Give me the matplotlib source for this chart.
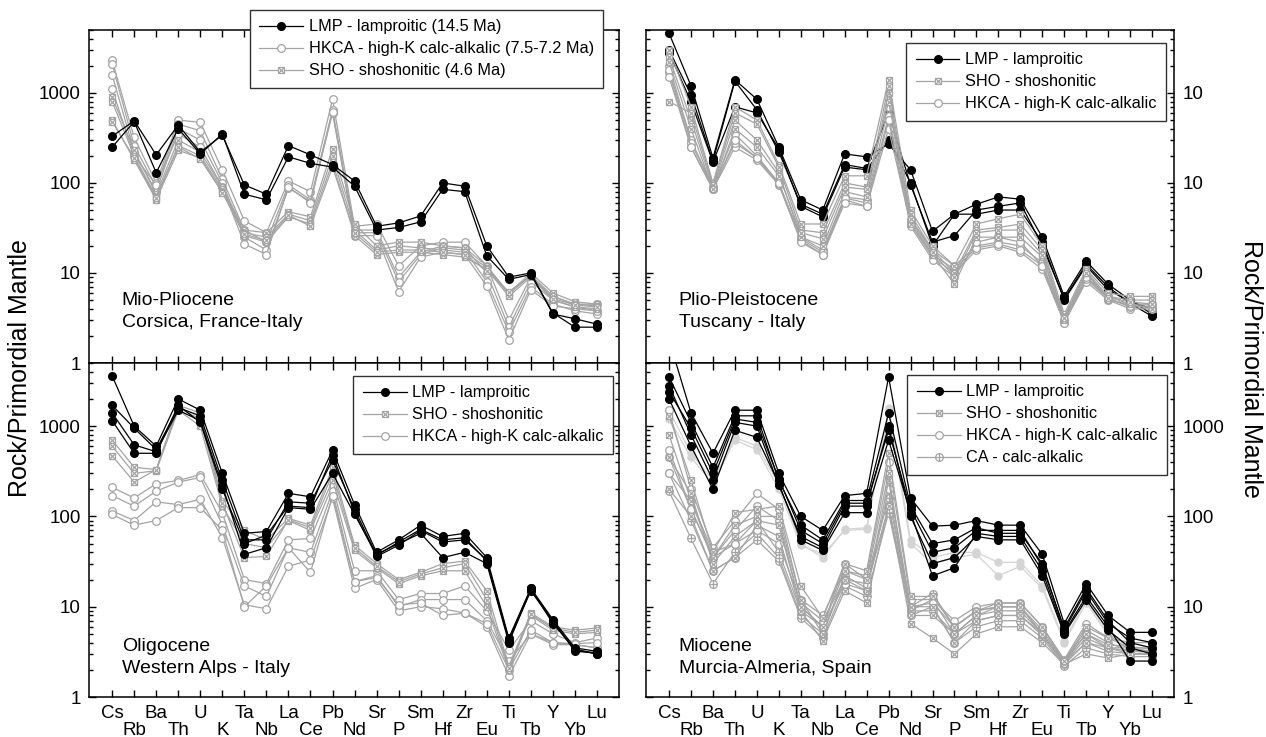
import matplotlib
matplotlib.use('Agg')
import matplotlib.pyplot as plt
from matplotlib.lines import Line2D
from matplotlib.legend_handler import HandlerTuple
import numpy as np

plt.rcParams['font.family'] = ['Liberation Sans', 'DejaVu Sans']

elements = ['Cs', 'Rb', 'Ba', 'Th', 'U', 'K', 'Ta', 'Nb', 'La', 'Ce', 'Pb', 'Nd',
            'Sr', 'P', 'Sm', 'Hf', 'Zr', 'Eu', 'Ti', 'Tb', 'Y', 'Yb', 'Lu']

# Mio-Pliocene, Corsica
corsica_lmp = [
    [330, 490, 205, 440, 220, 340, 95, 75, 260, 205, 160, 105, 33, 36, 43, 100, 92, 20, 9.0, 10.0, 3.5, 3.1, 2.7],
    [250, 480, 130, 400, 210, 350, 75, 65, 195, 165, 150, 92, 30, 32, 37, 85, 80, 15.5, 8.5, 9.6, 3.6, 2.5, 2.5],
]
corsica_hkca = [
    [2300, 320, 100, 500, 470, 140, 38, 28, 105, 80, 850, 33, 35, 12, 20, 22, 22, 12, 3.0, 9, 5.5, 4.5, 4.5],
    [2100, 260, 90, 450, 380, 110, 30, 22, 95, 65, 650, 30, 30, 9, 17, 20, 19, 10, 2.5, 8, 5, 4.2, 3.8],
    [1600, 220, 80, 400, 300, 100, 25, 18, 88, 62, 600, 28, 28, 8, 16, 19, 18, 8, 2.2, 7, 4.5, 3.8, 3.5],
    [1100, 200, 95, 350, 250, 90, 21, 16, 90, 60, 620, 26, 26, 6.2, 15, 17, 16, 7.2, 1.8, 6.5, 4.3, 4.0, 3.8],
]
corsica_sho = [
    [900, 230, 75, 300, 220, 90, 30, 28, 48, 42, 240, 35, 20, 22, 22, 20, 19, 12, 6, 10, 6, 4.8, 4.5],
    [800, 200, 70, 260, 200, 85, 28, 25, 45, 38, 200, 30, 18, 20, 19, 18, 17, 11.5, 5.8, 9.5, 5.5, 4.5, 4.3],
    [500, 180, 65, 230, 190, 80, 26, 22, 42, 35, 170, 26, 16, 17, 17, 16, 15, 11, 5.5, 9, 5, 4.2, 4.0],
    [480, 190, 68, 250, 185, 78, 27, 23, 44, 33, 150, 28, 17, 18, 18, 17, 16, 10.5, 6.2, 9.2, 5.2, 4.4, 4.2],
]

# Plio-Pleistocene, Tuscany
tuscany_lmp = [
    [4600, 1200, 190, 1400, 850, 250, 65, 50, 210, 195, 270, 140, 29, 45, 58, 70, 66, 25, 5.5, 13.5, 7.5, 5.0, 3.5],
    [3000, 950, 175, 1350, 650, 220, 58, 45, 160, 145, 600, 95, 22, 26, 50, 55, 60, 20, 5.2, 12.5, 7.0, 4.6, 3.3],
    [2800, 800, 170, 700, 600, 240, 55, 42, 150, 140, 300, 100, 20, 45, 45, 50, 50, 22, 5.0, 12, 6.5, 4.8, 4.0],
]
tuscany_sho = [
    [3000, 700, 100, 700, 500, 160, 35, 35, 120, 120, 1400, 50, 20, 12, 35, 40, 45, 20, 3.5, 11, 6, 5.5, 5.5],
    [2500, 500, 90, 500, 300, 130, 25, 20, 80, 70, 1000, 35, 16, 7.5, 25, 25, 25, 15, 3.0, 10, 5, 4.5, 4.0],
    [800, 600, 95, 600, 450, 150, 30, 28, 100, 90, 800, 45, 18, 10, 30, 32, 35, 18, 3.2, 10.5, 5.5, 5.0, 5.0],
    [2200, 400, 85, 400, 250, 120, 28, 24, 90, 85, 1200, 40, 17, 9, 28, 30, 30, 16, 3.2, 10, 5.3, 4.8, 4.5],
]
tuscany_hkca = [
    [2000, 300, 90, 350, 200, 100, 25, 18, 70, 65, 700, 40, 18, 12, 20, 22, 20, 13, 3.0, 9, 5.5, 4.5, 4.5],
    [1700, 250, 85, 250, 180, 95, 23, 16, 65, 55, 400, 35, 15, 10, 18, 20, 17, 11, 2.8, 8, 5, 4.0, 4.0],
    [1800, 280, 88, 280, 190, 98, 24, 17, 68, 60, 550, 38, 16, 11, 19, 21, 18, 12, 2.9, 8.5, 5.2, 4.2, 4.2],
    [1500, 250, 85, 300, 190, 100, 22, 16, 60, 55, 500, 33, 14, 9, 22, 25, 22, 12, 2.8, 9, 5.2, 4.3, 4.3],
]

# Oligocene, Western Alps
alps_lmp = [
    [3600, 1000, 600, 2000, 1500, 300, 65, 68, 180, 165, 540, 135, 40, 55, 80, 60, 65, 35, 4.5, 16, 7.2, 3.5, 3.2],
    [1700, 950, 550, 1600, 1300, 250, 55, 55, 145, 140, 420, 120, 37, 52, 72, 55, 58, 32, 4.2, 15, 6.8, 3.3, 3.0],
    [1400, 620, 520, 1500, 1150, 220, 38, 45, 125, 120, 300, 105, 38, 50, 65, 35, 40, 30, 4.0, 15.5, 7.0, 3.2, 3.1],
    [1150, 500, 500, 1700, 1100, 200, 50, 62, 130, 125, 480, 110, 36, 48, 70, 52, 55, 33, 4.3, 16, 6.5, 3.4, 3.0],
]
alps_sho = [
    [700, 350, 330, 1700, 1400, 150, 70, 55, 95, 80, 350, 48, 30, 20, 24, 30, 32, 15, 2.2, 8.5, 6, 5.5, 5.8],
    [600, 300, 320, 1500, 1000, 130, 50, 45, 90, 70, 250, 42, 27, 18, 22, 25, 25, 10, 2.0, 8, 5.5, 5.0, 5.2],
    [470, 240, 330, 1600, 1200, 140, 35, 36, 92, 75, 300, 45, 28, 19, 23, 27, 30, 12, 2.1, 8.2, 5.8, 5.2, 5.5],
]
alps_hkca = [
    [210, 160, 230, 250, 290, 110, 20, 18, 55, 57, 220, 25, 25, 12, 14, 14, 17, 9, 3.3, 7, 5, 4, 4.5],
    [170, 130, 190, 240, 270, 80, 17, 13, 45, 40, 190, 19, 22, 10, 12, 12, 12, 7, 2.5, 5, 4, 3.8, 3.5],
    [115, 90, 145, 135, 155, 58, 10.5, 9.5, 28, 33, 160, 16, 20, 9, 10, 9.5, 8.5, 6, 1.7, 5, 3.8, 3.8, 3.5],
    [105, 80, 90, 125, 125, 70, 10, 17, 45, 24, 170, 19, 21, 10.5, 11, 8, 8.5, 6.5, 2.0, 5.5, 4, 3.9, 4.0],
]

# Miocene, Murcia-Almeria
murcia_lmp = [
    [9000, 1400, 500, 1500, 1500, 300, 100, 70, 170, 180, 3500, 160, 78, 80, 90, 80, 80, 38, 6.5, 18, 8, 5.2, 5.2],
    [3500, 1100, 350, 1300, 1300, 250, 80, 55, 150, 150, 1400, 130, 50, 55, 75, 65, 65, 30, 5.5, 15, 6.5, 4.5, 4.0],
    [2800, 800, 250, 1100, 1000, 220, 60, 45, 130, 130, 1000, 100, 30, 35, 60, 55, 55, 22, 5.0, 12, 5.5, 3.5, 3.0],
    [2000, 600, 200, 900, 750, 230, 55, 42, 110, 110, 700, 110, 22, 27, 65, 60, 60, 25, 5.2, 13, 6, 2.5, 2.5],
    [2400, 950, 300, 1200, 1100, 260, 70, 50, 140, 140, 900, 120, 40, 45, 70, 70, 70, 28, 5.8, 16, 7, 4.0, 3.5],
]
murcia_other = [
    [1500, 500, 250, 750, 600, 230, 50, 35, 72, 75, 1600, 55, 35, 40, 40, 31, 31, 17, 4.2, 12, 5, 3.5, 3.0],
    [1200, 450, 230, 700, 550, 200, 48, 38, 70, 72, 1400, 50, 30, 35, 38, 22, 28, 16, 4.0, 11, 4.8, 3.3, 2.9],
]
murcia_sho = [
    [1300, 250, 40, 110, 120, 130, 17, 7.5, 30, 25, 500, 13, 13, 6, 9, 11, 11, 6, 2.5, 6, 4.5, 4, 4],
    [800, 150, 35, 80, 100, 100, 12, 5, 20, 15, 250, 10, 10, 4, 7, 8, 8, 5, 2.4, 4, 3.5, 3.5, 3.2],
    [200, 100, 25, 35, 80, 60, 9, 4.2, 15, 11, 130, 6.5, 4.5, 3, 5, 6, 6, 4, 2.3, 3, 2.7, 3, 3],
    [450, 180, 30, 60, 90, 80, 10, 6, 25, 20, 300, 8, 8, 5, 8, 10, 10, 5, 2.5, 5, 3.8, 3.6, 3.4],
]
murcia_hkca = [
    [1500, 200, 45, 90, 180, 120, 12, 8, 25, 22, 400, 12, 12, 7, 10, 11, 11, 6, 2.6, 6.5, 4.5, 3.5, 3.5],
    [550, 120, 35, 70, 130, 90, 10, 6, 18, 15, 200, 9, 9, 5, 8, 9, 9, 5, 2.4, 5, 3.5, 3, 3],
    [300, 150, 40, 50, 70, 50, 11, 7, 20, 18, 120, 10, 11, 6, 9, 10, 10, 5.5, 2.5, 5.5, 4, 3.2, 3.2],
]
murcia_ca = [
    [450, 120, 35, 50, 90, 40, 9, 6, 30, 20, 160, 10, 14, 6, 9, 10, 10, 5, 2.4, 4.5, 3.5, 3.2, 3.3],
    [300, 90, 25, 35, 55, 32, 7.5, 4.5, 17, 13, 110, 8, 10, 4, 6, 7, 7, 4.5, 2.2, 3.5, 3, 2.8, 2.8],
    [190, 57, 18, 40, 65, 35, 8, 5, 22, 16, 130, 9, 12, 5, 7, 8, 8, 4.8, 2.3, 4, 3.2, 3, 3],
]

GRAY = '#a4a4a4'
LIGHT = '#d4d4d4'
x = np.arange(len(elements))

lmp_style = dict(color='black', lw=0.9, marker='o', ms=5.5, mfc='black', mec='black')
hkca_style = dict(color=GRAY, lw=0.9, marker='o', ms=5.5, mfc='white', mec=GRAY, mew=0.9)
sho_style = dict(color=GRAY, lw=0.9, marker='s', ms=5, mfc='white', mec=GRAY, mew=0.9)
sho_cross = dict(ls='none', marker='x', ms=5, mec=GRAY, mew=0.9)
ca_cross = dict(ls='none', marker='+', ms=5.5, mec=GRAY, mew=0.9)
other_style = dict(color=LIGHT, lw=0.9, marker='o', ms=5, mfc=LIGHT, mec=LIGHT)


def draw(ax, rows, style, over=None):
    for r in rows:
        ax.plot(x, r, **style)
        if over is not None:
            ax.plot(x, r, **over)


def h_lmp():
    return Line2D([], [], **lmp_style)


def h_hkca():
    return Line2D([], [], **hkca_style)


def h_sho():
    return (Line2D([], [], **sho_style), Line2D([], [], **sho_cross))


def h_ca():
    return (Line2D([], [], **hkca_style), Line2D([], [], **ca_cross))


def style_axis(ax, bottom_row, right_side, right_labels=None):
    ax.set_yscale('log')
    ax.set_ylim(1, 5000)
    ax.set_xlim(-1.05, 23.0)
    ax.set_xticks(x)
    if bottom_row:
        labs = [e if i % 2 == 0 else '\n' + e for i, e in enumerate(elements)]
        ax.set_xticklabels(labs, fontsize=13.5)
        for t in ax.get_xticklabels():
            t.set_linespacing(0.95)
    else:
        ax.set_xticklabels([])
    ax.set_yticks([1, 10, 100, 1000])
    if right_labels is not None:
        ax.set_yticklabels(right_labels)
    else:
        ax.set_yticklabels(['1', '10', '100', '1000'])
    ax.tick_params(axis='both', which='both', direction='in', top=True, right=True,
                   labelsize=13.5, width=1.0)
    ax.tick_params(axis='both', which='major', length=5, pad=6)
    ax.tick_params(axis='y', which='minor', length=3)
    ax.tick_params(axis='x', which='minor', bottom=False, top=False)
    if right_side:
        ax.tick_params(axis='y', labelleft=False, labelright=True)
    for s in ax.spines.values():
        s.set_linewidth(1.1)


def add_legend(ax, handles, labels, anchor):
    leg = ax.legend(handles, labels, loc='upper right', bbox_to_anchor=anchor,
                    borderaxespad=0, fontsize=11.7, handlelength=2.7, handletextpad=0.35,
                    labelspacing=0.43, borderpad=0.58, fancybox=False, framealpha=1,
                    edgecolor='#333333', numpoints=1,
                    handler_map={tuple: HandlerTuple(ndivide=1, pad=0)})
    leg.get_frame().set_linewidth(1.0)
    return leg


fig = plt.figure(figsize=(12.66, 7.37), dpi=100)
W, H = 1266, 737
ax1 = fig.add_axes([89 / W, 1 - 363 / H, 530 / W, 333 / H])
ax2 = fig.add_axes([646 / W, 1 - 363 / H, 528 / W, 333 / H])
ax3 = fig.add_axes([89 / W, 1 - 697 / H, 530 / W, 334 / H])
ax4 = fig.add_axes([646 / W, 1 - 697 / H, 528 / W, 334 / H])

note = dict(fontsize=14, linespacing=1.38, va='bottom', ha='left')

# top left
draw(ax1, corsica_hkca, hkca_style)
draw(ax1, corsica_sho, sho_style, sho_cross)
draw(ax1, corsica_lmp, lmp_style)
style_axis(ax1, False, False)
add_legend(ax1, [h_lmp(), h_hkca(), h_sho()],
           ['LMP - lamproitic (14.5 Ma)', 'HKCA - high-K calc-alkalic (7.5-7.2 Ma)',
            'SHO - shoshonitic (4.6 Ma)'], (0.970, 1.06))
ax1.text(0.062, 0.095, 'Mio-Pliocene\nCorsica, France-Italy', transform=ax1.transAxes, **note)

# top right
draw(ax2, tuscany_lmp, lmp_style)
draw(ax2, tuscany_hkca, hkca_style)
draw(ax2, tuscany_sho, sho_style, sho_cross)
style_axis(ax2, False, True, ['1', '10', '10', '10'])
add_legend(ax2, [h_lmp(), h_sho(), h_hkca()],
           ['LMP - lamproitic', 'SHO - shoshonitic', 'HKCA - high-K calc-alkalic'],
           (0.985, 0.961))
ax2.text(0.062, 0.095, 'Plio-Pleistocene\nTuscany - Italy', transform=ax2.transAxes, **note)

# bottom left
draw(ax3, alps_hkca, hkca_style)
draw(ax3, alps_sho, sho_style, sho_cross)
draw(ax3, alps_lmp, lmp_style)
style_axis(ax3, True, False)
add_legend(ax3, [h_lmp(), h_sho(), h_hkca()],
           ['LMP - lamproitic', 'SHO - shoshonitic', 'HKCA - high-K calc-alkalic'],
           (0.989, 0.961))
ax3.text(0.062, 0.06, 'Oligocene\nWestern Alps - Italy', transform=ax3.transAxes, **note)

# bottom right
draw(ax4, murcia_other, other_style)
draw(ax4, murcia_ca, hkca_style, ca_cross)
draw(ax4, murcia_hkca, hkca_style)
draw(ax4, murcia_sho, sho_style, sho_cross)
draw(ax4, murcia_lmp, lmp_style)
style_axis(ax4, True, True)
add_legend(ax4, [h_lmp(), h_sho(), h_hkca(), h_ca()],
           ['LMP - lamproitic', 'SHO - shoshonitic', 'HKCA - high-K calc-alkalic',
            'CA - calc-alkalic'], (0.987, 0.964))
ax4.text(0.062, 0.06, 'Miocene\nMurcia-Almeria, Spain', transform=ax4.transAxes, **note)

fig.text(0.016, 0.5, 'Rock/Primordial Mantle', rotation=90, fontsize=18,
         ha='center', va='center')
fig.text(0.988, 0.5, 'Rock/Primordial Mantle', rotation=270, fontsize=18,
         ha='center', va='center')

fig.savefig('out.png', dpi=100)
